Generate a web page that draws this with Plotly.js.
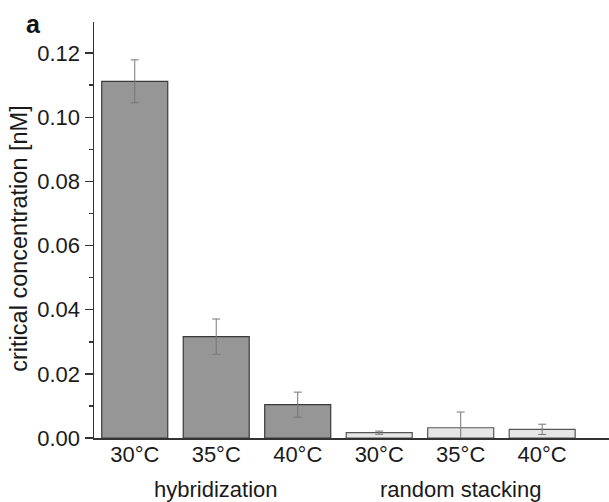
<!DOCTYPE html>
<html>
<head>
<meta charset="utf-8">
<script src="https://cdn.plot.ly/plotly-3.0.1.min.js"></script>
<style>html,body{margin:0;padding:0;background:#fff;}#chart{width:609px;height:502px;}</style>
</head>
<body>
<div id="chart"></div>
<script>
const categories = ["h30", "h35", "h40", "r30", "r35", "r40"];
const tickLabels = ["30°C", "35°C", "40°C", "30°C", "35°C", "40°C"];
const hybridValues = [0.1112, 0.0316, 0.0104];
const hybridErrors = [0.0067, 0.0055, 0.0039];
const stackValues = [0.00165, 0.0032, 0.0027];
const stackErrors = [0.0005, 0.0049, 0.0016];
const groupLabels = ["hybridization", "random stacking"];
const yTitle = "critical concentration [nM]";

const FONT = "Liberation Sans, Arial, sans-serif";

const traces = [
  {
    type: "bar",
    x: categories.slice(0, 3),
    y: hybridValues,
    error_y: {type: "data", array: hybridErrors, visible: true, color: "#777", thickness: 1, width: 4},
    marker: {color: "#969696", line: {color: "#3a3a3a", width: 1.2}},
    showlegend: false,
    hoverinfo: "skip"
  },
  {
    type: "bar",
    x: categories.slice(3),
    y: stackValues,
    error_y: {type: "data", array: stackErrors, visible: true, color: "#777", thickness: 1, width: 4},
    marker: {color: "#e6e6e6", line: {color: "#555", width: 1.2}},
    showlegend: false,
    hoverinfo: "skip"
  }
];

const layout = {
  width: 609,
  height: 502,
  margin: {l: 94, r: 0, t: 22, b: 64, pad: 0},
  paper_bgcolor: "#fff",
  plot_bgcolor: "#fff",
  font: {family: FONT, size: 22, color: "#1a1a1a"},
  bargap: 0.19,
  barmode: "group",
  xaxis: {
    type: "category",
    categoryorder: "array",
    categoryarray: categories,
    tickvals: categories,
    ticktext: tickLabels,
    range: [-0.5, 5.82],
    showline: true,
    linecolor: "#333",
    linewidth: 1.5,
    ticks: "",
    ticklabelstandoff: -4,
    showgrid: false,
    zeroline: false,
    tickfont: {family: FONT, size: 22, color: "#1a1a1a"}
  },
  yaxis: {
    range: [0, 0.1297],
    dtick: 0.02,
    tickformat: ".2f",
    showline: true,
    linecolor: "#333",
    linewidth: 1.5,
    ticks: "outside",
    ticklen: 8,
    tickwidth: 1.5,
    tickcolor: "#333",
    minor: {dtick: 0.01, ticks: "outside", ticklen: 4, tickwidth: 1.5, tickcolor: "#333"},
    showgrid: false,
    zeroline: false,
    tickfont: {family: FONT, size: 22, color: "#1a1a1a"}
  },
  annotations: [
    {x: 1, y: -0.124, xref: "x", yref: "paper", text: groupLabels[0], showarrow: false, xanchor: "center", yanchor: "middle", font: {family: FONT, size: 22, color: "#1a1a1a"}},
    {x: 4, y: -0.124, xref: "x", yref: "paper", text: groupLabels[1], showarrow: false, xanchor: "center", yanchor: "middle", font: {family: FONT, size: 22, color: "#1a1a1a"}},
    {x: -0.1445, y: 0.478, xref: "paper", yref: "paper", text: yTitle, textangle: -90, showarrow: false, xanchor: "center", yanchor: "middle", font: {family: FONT, size: 23.5, color: "#1a1a1a"}},
    {x: -0.118, y: 0.995, xref: "paper", yref: "paper", text: "<b>a</b>", showarrow: false, xanchor: "center", yanchor: "middle", font: {family: FONT, size: 25, color: "#111"}}
  ]
};

Plotly.newPlot("chart", traces, layout, {staticPlot: true, displayModeBar: false});
</script>
</body>
</html>
